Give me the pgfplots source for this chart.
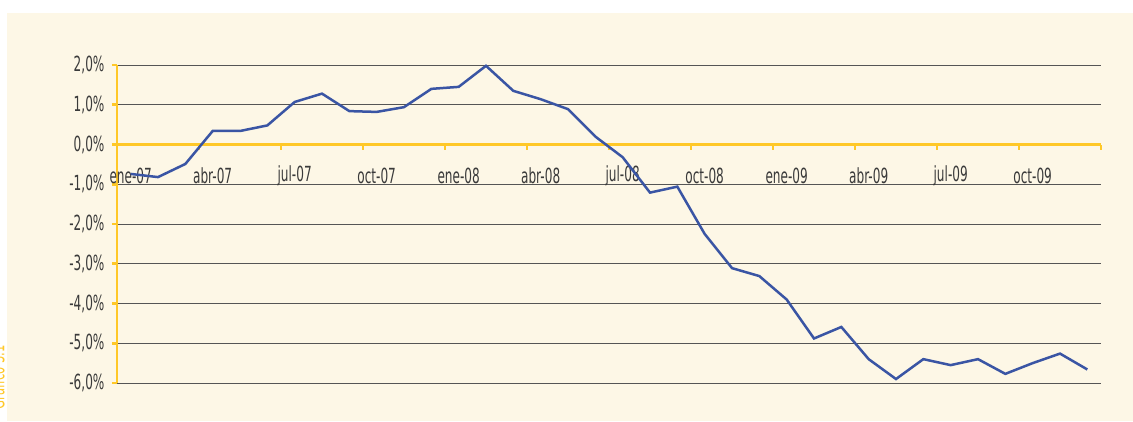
\documentclass[border=0pt]{standalone}
\usepackage{pgfplots}
\pgfplotsset{compat=1.18}
\usepackage{fontspec}
\setmainfont{DejaVu Sans}[FakeStretch=0.58]
\definecolor{bgc}{HTML}{FDF7E6}
\definecolor{ylw}{HTML}{FFC828}
\definecolor{lineblue}{HTML}{3A55A4}
\definecolor{txt}{HTML}{3A3A3A}
\definecolor{grd}{HTML}{555555}
\begin{document}
\begin{tikzpicture}
\useasboundingbox (0,0) rectangle (679.8pt,252.6pt);
\fill[white] (0,0) rectangle (679.8pt,252.6pt);
\fill[bgc] (4.2pt,0) rectangle (679.8pt,244.8pt);
\begin{scope}
\clip (0,0) rectangle (4.2pt,252.6pt);
\node[rotate=90, anchor=south east, inner sep=0pt, text=ylw, font=\fontsize{12}{14}\selectfont] at (3pt,45.6pt) {Gráfico 3.1};
\end{scope}
\begin{axis}[
  at={(70.2pt,22.8pt)}, anchor=south west,
  scale only axis, width=590.4pt, height=190.8pt,
  xmin=0, xmax=36, ymin=-6, ymax=2,
  axis x line=middle, axis y line=left,
  axis on top=false,
  hide obscured x ticks=false, hide obscured y ticks=false,
  axis line style={ylw, line width=1.7pt, -},
  x axis line style={ylw, line width=1.7pt, -},
  xtick={0,3,...,36},
  xticklabels={ene-07,abr-07,jul-07,oct-07,ene-08,abr-08,jul-08,oct-08,ene-09,abr-09,jul-09,oct-09,{}},
  ytick={-6,-5,...,2},
  yticklabels={-6{,}0\%,-5{,}0\%,-4{,}0\%,-3{,}0\%,-2{,}0\%,-1{,}0\%,0{,}0\%,1{,}0\%,2{,}0\%},
  tick style={ylw, line width=1.6pt},
  major tick length=3pt,
  xtick align=outside, ytick align=outside,
  ymajorgrids, major grid style={grd, line width=0.55pt},
  xticklabel style={anchor=center, xshift=8.2pt, yshift=-16pt, text=txt, font=\fontsize{12.5}{14}\selectfont},
  yticklabel style={text=txt, font=\fontsize{12.5}{14}\selectfont, xshift=-1pt},
  clip=false,
]
\addplot[lineblue, line width=1.5pt] coordinates {
(0.5,-0.74) (1.5,-0.82) (2.5,-0.49) (3.5,0.34) (4.5,0.34) (5.5,0.48)
(6.5,1.07) (7.5,1.28) (8.5,0.84) (9.5,0.82) (10.5,0.94) (11.5,1.40)
(12.5,1.45) (13.5,1.98) (14.5,1.35) (15.5,1.14) (16.5,0.89) (17.5,0.20)
(18.5,-0.32) (19.5,-1.21) (20.5,-1.06) (21.5,-2.25) (22.5,-3.11) (23.5,-3.31)
(24.5,-3.90) (25.5,-4.88) (26.5,-4.59) (27.5,-5.40) (28.5,-5.90) (29.5,-5.40)
(30.5,-5.55) (31.5,-5.40) (32.5,-5.77) (33.5,-5.50) (34.5,-5.26) (35.5,-5.66)
};
\end{axis}
\end{tikzpicture}
\end{document}
